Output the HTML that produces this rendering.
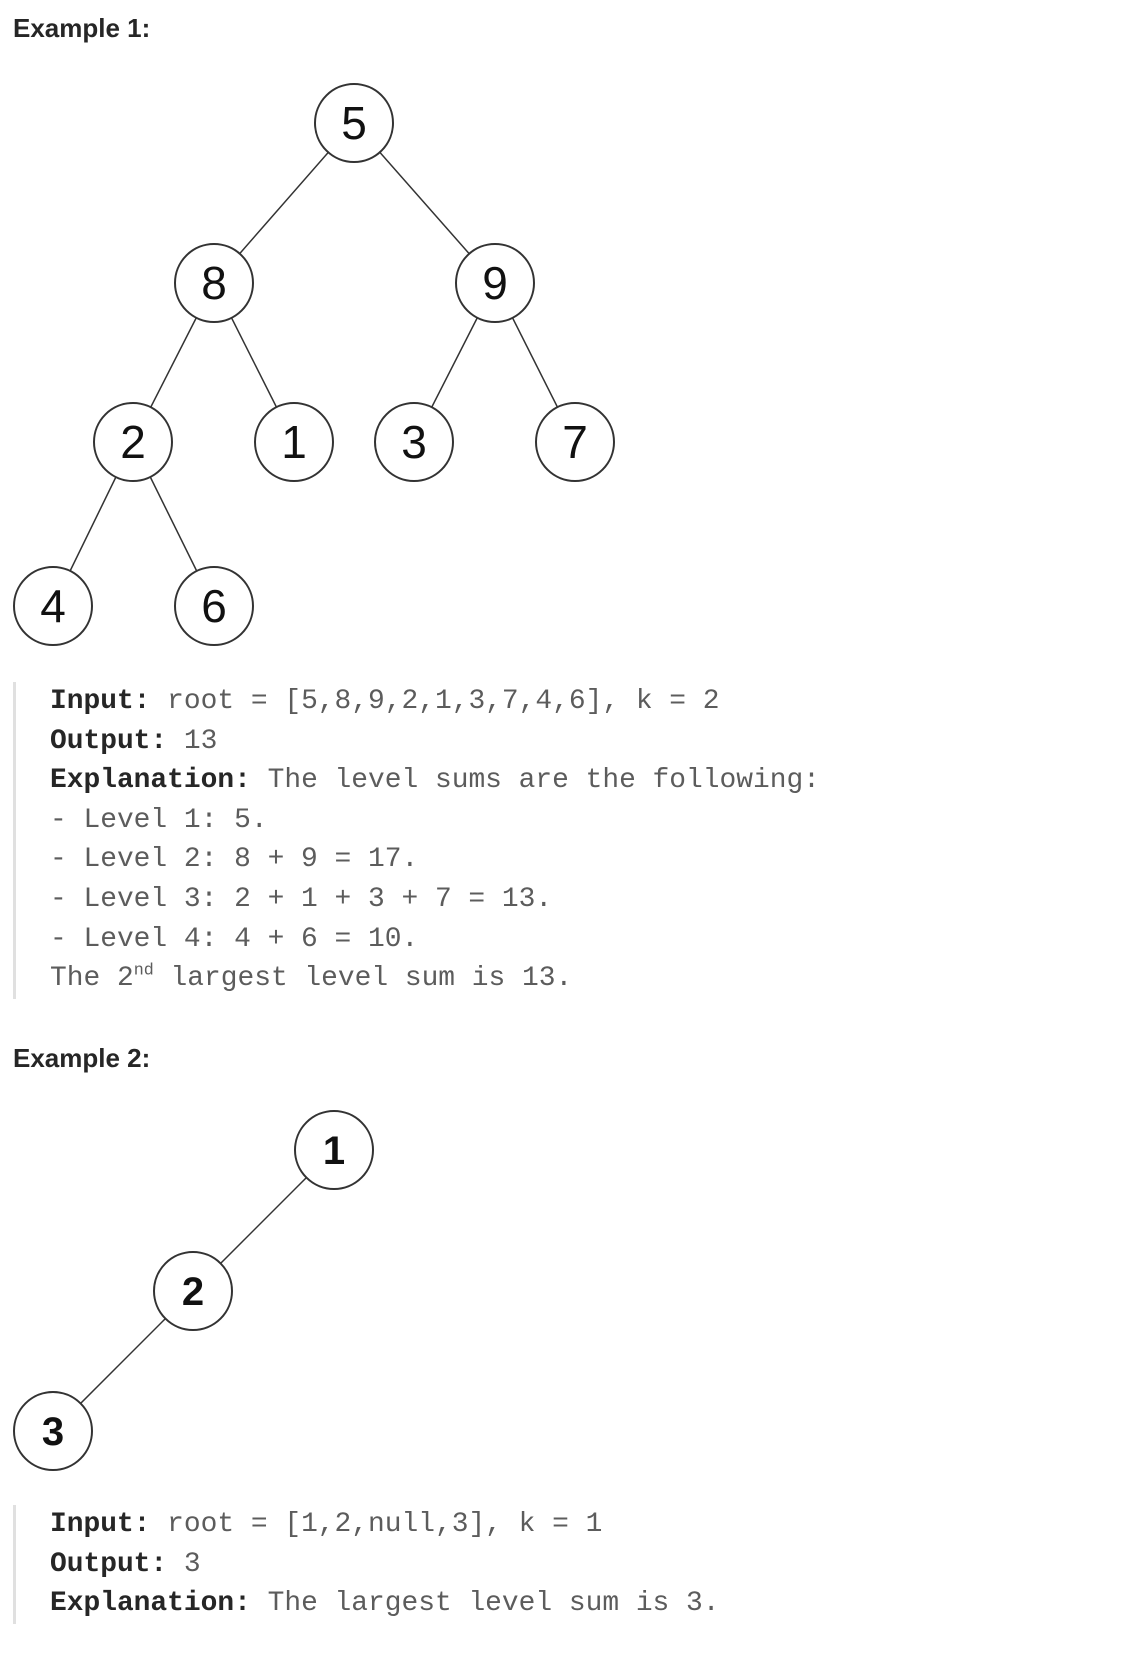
<!DOCTYPE html>
<html><head><style>
body{margin:0;width:1142px;height:1668px;background:#fff;position:relative;overflow:hidden}
.h{position:absolute;left:13px;font:bold 26px "Liberation Sans",sans-serif;color:#262626}
.pre{position:absolute;left:13px;border-left:3px solid #e0e0e0;padding-left:34px;font:27.9px/39.6px "Liberation Mono",monospace;color:#5c5c5c;white-space:pre}
.pre b{color:#262626}
sup{font-size:60%;line-height:0}
svg{position:absolute;left:0;top:0}
</style></head><body>
<div class="h" style="top:13px">Example 1:</div>
<svg width="1142" height="1668">
<g stroke="#333" stroke-width="1.5">
<line x1="354" y1="123" x2="214" y2="283"/><line x1="354" y1="123" x2="495" y2="283"/>
<line x1="214" y1="283" x2="133" y2="442"/><line x1="214" y1="283" x2="294" y2="442"/>
<line x1="495" y1="283" x2="414" y2="442"/><line x1="495" y1="283" x2="575" y2="442"/>
<line x1="133" y1="442" x2="53" y2="606"/><line x1="133" y1="442" x2="214" y2="606"/>
<line x1="334" y1="1150" x2="193" y2="1291"/><line x1="193" y1="1291" x2="53" y2="1431"/>
</g>
<g fill="#fff" stroke="#333" stroke-width="2">
<circle cx="354" cy="123" r="39"/><circle cx="214" cy="283" r="39"/><circle cx="495" cy="283" r="39"/>
<circle cx="133" cy="442" r="39"/><circle cx="294" cy="442" r="39"/><circle cx="414" cy="442" r="39"/><circle cx="575" cy="442" r="39"/>
<circle cx="53" cy="606" r="39"/><circle cx="214" cy="606" r="39"/>
<circle cx="334" cy="1150" r="39"/><circle cx="193" cy="1291" r="39"/><circle cx="53" cy="1431" r="39"/>
</g>
<g font-family="Liberation Sans, sans-serif" font-size="46" text-anchor="middle" fill="#111">
<text x="354" y="139">5</text><text x="214" y="299">8</text><text x="495" y="299">9</text>
<text x="133" y="458">2</text><text x="294" y="458">1</text><text x="414" y="458">3</text><text x="575" y="458">7</text>
<text x="53" y="622">4</text><text x="214" y="622">6</text>
</g>
<g font-family="Liberation Sans, sans-serif" font-size="40" font-weight="bold" text-anchor="middle" fill="#111">
<text x="334" y="1164">1</text><text x="193" y="1305">2</text><text x="53" y="1445">3</text>
</g>
</svg>
<div class="pre" style="top:682px"><b>Input:</b> root = [5,8,9,2,1,3,7,4,6], k = 2
<b>Output:</b> 13
<b>Explanation:</b> The level sums are the following:
- Level 1: 5.
- Level 2: 8 + 9 = 17.
- Level 3: 2 + 1 + 3 + 7 = 13.
- Level 4: 4 + 6 = 10.
The 2<sup>nd</sup> largest level sum is 13.</div>
<div class="h" style="top:1043px">Example 2:</div>
<div class="pre" style="top:1505px"><b>Input:</b> root = [1,2,null,3], k = 1
<b>Output:</b> 3
<b>Explanation:</b> The largest level sum is 3.</div>
</body></html>
